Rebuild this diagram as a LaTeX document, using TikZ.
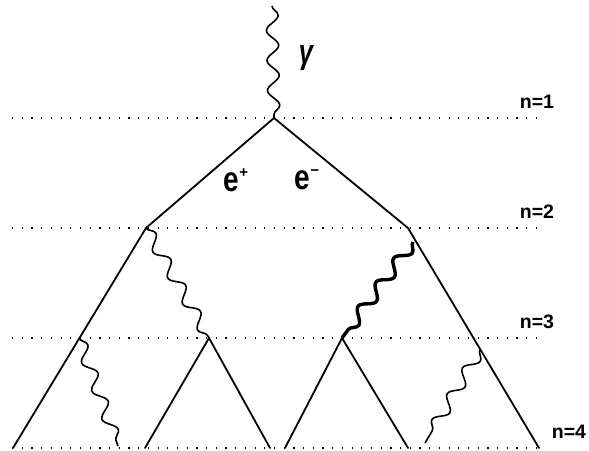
\documentclass[tikz,border=0pt]{standalone}
\usepackage{fontspec}
\setsansfont{Liberation Sans}
\usetikzlibrary{decorations.pathmorphing, calc}

\newcommand{\chg}[1]{\scalebox{0.8}[1]{e}\raisebox{0.4em}{\fontsize{15}{15}\selectfont#1}}

\begin{document}
\begin{tikzpicture}[
  x=1pt, y=-1pt,
  fermion/.style={line width=1.8pt, line cap=round},
  photon/.style={
    decorate, decoration={snake, amplitude=6pt, segment length=30pt},
    line width=1.6pt
  },
  hardphoton/.style={photon, line width=3.4pt},
  level/.style={line width=1.2pt, dash pattern=on 1.2pt off 8.5pt},
  lbl/.style={font=\sffamily\bfseries\fontsize{19.5}{23}\selectfont, inner sep=0pt},
  charge/.style={font=\sffamily\bfseries\fontsize{35}{40}\selectfont, inner sep=0pt},
]
\useasboundingbox (0,0) rectangle (589,450);

% ===== Generation levels (dotted) =====
\foreach \n/\y in {1/118, 2/228, 3/338, 4/448}{
  \coordinate (lv\n a) at (12,\y);
  \coordinate (lv\n b) at (536,\y);
  \draw[level] (lv\n a) -- (lv\n b);
}
\foreach \n/\y in {1/102, 2/212, 3/322}{
  \node[lbl] (n\n) at (537,\y) {n=\n};
}
\node[lbl] (n4) at (569,432) {n=4};

% ===== Vertices =====
\coordinate (v1)  at (274,118);
\coordinate (v2l) at (146,228);
\coordinate (v2r) at (408,228);
\coordinate (v3l) at (79,338);
\coordinate (v3m) at (209,338);
\coordinate (v3n) at (342,338);
\coordinate (v3r) at (480,350);
\coordinate (k2r) at (413,242);
% bottom ends
\coordinate (b1) at (13,448);
\coordinate (b2) at (145,448);
\coordinate (b3) at (270,448);
\coordinate (b4) at (285,448);
\coordinate (b5) at (408,448);
\coordinate (b6) at (539,448);
% free photon ends
\coordinate (g0)  at (272,6);
\coordinate (p4l) at (118,446);
\coordinate (p4r) at (425,443);

% ===== Electron / positron lines =====
\draw[fermion] (b1) -- (v2l) -- (v1) -- (v2r) -- (b6);
\draw[fermion] (b2) -- (v3m) -- (b3);
\draw[fermion] (b4) -- (v3n) -- (b5);

% ===== Photons =====
\draw[photon] (g0) -- (v1);
\draw[photon] (v2l) -- (v3m);
\draw[hardphoton] (k2r) -- (v3n);
\draw[photon] (v3l) -- (p4l);
\draw[photon] (v3r) -- (p4r);

% labels
\node[inner sep=0pt, font=\sffamily\bfseries\itshape\fontsize{34}{38}\selectfont]
  (gam) at (306,58) {\scalebox{0.75}[1]{γ}};
\node[charge] (ep) at (236,180) {\chg{+}};
\node[charge] (em) at (307,180) {\chg{−}};

\end{tikzpicture}
\end{document}
